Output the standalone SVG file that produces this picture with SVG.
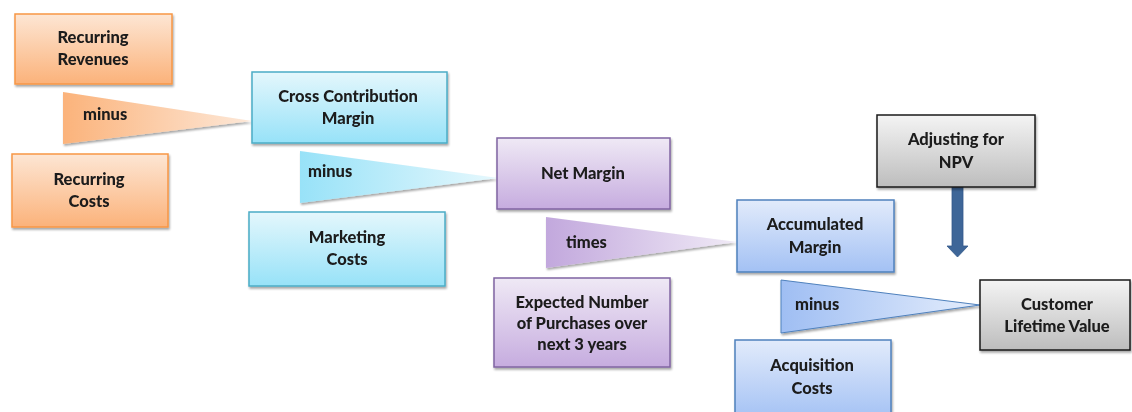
<svg xmlns="http://www.w3.org/2000/svg" width="1132" height="412" viewBox="0 0 1132 412">
<defs>
<linearGradient id="gOr" x1="0" y1="0" x2="0" y2="1"><stop offset="0" stop-color="#fde6d4"/><stop offset="1" stop-color="#fbb27a"/></linearGradient>
<linearGradient id="gCy" x1="0" y1="0" x2="0" y2="1"><stop offset="0" stop-color="#e4f7fc"/><stop offset="1" stop-color="#97e2f8"/></linearGradient>
<linearGradient id="gPu" x1="0" y1="0" x2="0" y2="1"><stop offset="0" stop-color="#efe9f5"/><stop offset="1" stop-color="#c6acdf"/></linearGradient>
<linearGradient id="gBl" x1="0" y1="0" x2="0" y2="1"><stop offset="0" stop-color="#e2ebfb"/><stop offset="1" stop-color="#a3c1f4"/></linearGradient>
<linearGradient id="gGr" x1="0" y1="0" x2="0" y2="1"><stop offset="0" stop-color="#f4f4f4"/><stop offset="1" stop-color="#bdbdbd"/></linearGradient>
<linearGradient id="tOr" x1="0" y1="0" x2="1" y2="0"><stop offset="0" stop-color="#fbb37b"/><stop offset="1" stop-color="#fde8d8"/></linearGradient>
<linearGradient id="tCy" x1="0" y1="0" x2="1" y2="0"><stop offset="0" stop-color="#98e2f8"/><stop offset="1" stop-color="#e6f8fd"/></linearGradient>
<linearGradient id="tPu" x1="0" y1="0" x2="1" y2="0"><stop offset="0" stop-color="#c2a8dd"/><stop offset="1" stop-color="#f0eaf6"/></linearGradient>
<linearGradient id="tBl" x1="0" y1="0" x2="1" y2="0"><stop offset="0" stop-color="#9fbef3"/><stop offset="1" stop-color="#e4edfc"/></linearGradient>
<filter id="sh" x="-10%" y="-10%" width="125%" height="130%"><feDropShadow dx="1" dy="2" stdDeviation="1.2" flood-color="#000" flood-opacity="0.35"/></filter>
</defs>
<style>
.t{font-family:Lato,"Open Sans","Liberation Sans",sans-serif;font-weight:900;font-size:16.5px;fill:#1b1b1b;text-anchor:middle}
.l{text-anchor:start}
.or{fill:url(#gOr);stroke:#f79646;stroke-width:1.5}
.cy{fill:url(#gCy);stroke:#4bacc6;stroke-width:1.5}
.pu{fill:url(#gPu);stroke:#8064a2;stroke-width:1.5}
.bl{fill:url(#gBl);stroke:#4f81bd;stroke-width:1.5}
.gr{fill:url(#gGr);stroke:#1a1a1a;stroke-width:1.5}
</style>
<rect width="1132" height="412" fill="#ffffff"/>
<g id="connectors">
<g id="op1" filter="url(#sh)"><polygon points="63,92 252,121 63,144" fill="url(#tOr)"/><text class="t l" x="83" y="120">minus</text></g>
<g id="op2" filter="url(#sh)"><polygon points="300,151 498,178 300,203" fill="url(#tCy)"/><text class="t l" x="308" y="177">minus</text></g>
<g id="op3" filter="url(#sh)"><polygon points="546,217 737,242 546,268" fill="url(#tPu)"/><text class="t l" x="566" y="248">times</text></g>
<g id="op4" filter="url(#sh)"><polygon points="781,280 980,305 781,333" fill="url(#tBl)" stroke="#4f81bd" stroke-width="1"/><text class="t l" x="795" y="310">minus</text></g>
<g id="npvArrow"><polygon points="952,187 963,187 963,246 968,246 957.5,257 947,246 952,246" fill="#3e6698" stroke="#34598a" stroke-width="0.8"/></g>
</g>
<g id="n1" filter="url(#sh)"><rect class="or" x="15" y="14" width="157" height="70"/><text class="t" x="93" y="43">Recurring</text><text class="t" x="93" y="65">Revenues</text></g>
<g id="n2" filter="url(#sh)"><rect class="or" x="12" y="154" width="156" height="73"/><text class="t" x="89" y="185">Recurring</text><text class="t" x="89" y="207">Costs</text></g>
<g id="n3" filter="url(#sh)"><rect class="cy" x="252" y="72" width="195" height="71"/><text class="t" x="348" y="102">Cross Contribution</text><text class="t" x="348" y="124">Margin</text></g>
<g id="n4" filter="url(#sh)"><rect class="cy" x="249" y="212" width="196" height="74"/><text class="t" x="347" y="243">Marketing</text><text class="t" x="347" y="265">Costs</text></g>
<g id="n5" filter="url(#sh)"><rect class="pu" x="497" y="138" width="173" height="71"/><text class="t" x="583" y="179">Net Margin</text></g>
<g id="n6" filter="url(#sh)"><rect class="pu" x="494" y="278" width="176" height="89"/><text class="t" x="582" y="308">Expected Number</text><text class="t" x="582" y="329">of Purchases over</text><text class="t" x="582" y="350">next 3 years</text></g>
<g id="n7" filter="url(#sh)"><rect class="bl" x="737" y="200" width="157" height="72"/><text class="t" x="815" y="230">Accumulated</text><text class="t" x="815" y="253">Margin</text></g>
<g id="n8" filter="url(#sh)"><rect class="bl" x="735" y="340" width="156" height="80"/><text class="t" x="812" y="371">Acquisition</text><text class="t" x="812" y="394">Costs</text></g>
<g id="n9" filter="url(#sh)"><rect class="gr" x="877" y="115" width="158" height="72"/><text class="t" x="956" y="145">Adjusting for</text><text class="t" x="956" y="168">NPV</text></g>
<g id="n10" filter="url(#sh)"><rect class="gr" x="980" y="280" width="150" height="70"/><text class="t" x="1057" y="310">Customer</text><text class="t" x="1057" y="332">Lifetime Value</text></g>
</svg>
